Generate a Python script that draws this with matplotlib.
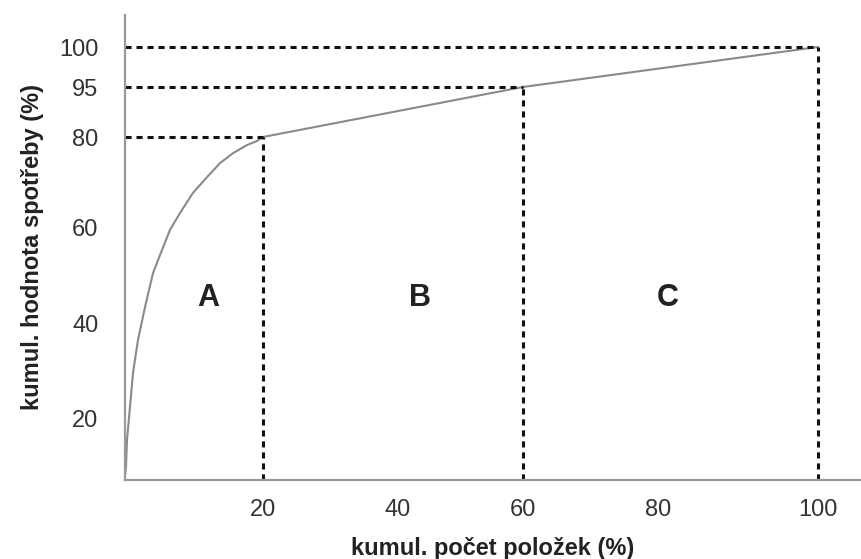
import numpy as np
import matplotlib.pyplot as plt

# cumulative curve (ABC analysis)
curve_x = [0.05, 0.14, 0.29, 0.72, 1.16, 1.88, 2.9, 4.06, 5.36, 6.52, 7.97, 9.86,
           11.9, 13.77, 15.65, 17.68, 19.1, 20, 60, 100]
curve_y = [8.4, 9.7, 15.4, 22.3, 29.5, 36.4, 43.3, 50.4, 55.2, 59.4, 63.1, 67.6,
           71.1, 74.2, 76.4, 78.2, 79.1, 80, 95, 100]

# class boundaries
break_x = [20, 60, 100]
break_y = [80, 95, 100]

# zone labels
zone_names = ['A', 'B', 'C']
zone_x = [12.0, 43.5, 81.2]
zone_y = [45.2, 45.2, 45.2]

x_ticks = [20, 40, 60, 80, 100]
y_ticks = [20, 40, 60, 80, 95, 100]

# the original drawing is not evenly spaced: knots of its axes (value -> length)
x_knots = [0, 20, 40, 60, 80, 100, 110]
x_len = [0, 138, 273, 398, 533, 693, 773]
y_knots = [0, 20, 40, 60, 80, 95, 100, 110]
y_len = [0, 95, 190, 286, 376, 426, 466, 546]


def make_scale(knots, lengths):
    fwd = lambda v: np.interp(v, knots, lengths)
    inv = lambda v: np.interp(v, lengths, knots)
    return fwd, inv


plt.rcParams['font.family'] = ['Liberation Sans', 'DejaVu Sans']

fig = plt.figure(figsize=(8.61, 5.59), dpi=100)
ax = fig.add_axes([125 / 861, 79 / 559, 736 / 861, 465 / 559])
ax.set_xscale('function', functions=make_scale(x_knots, x_len))
ax.set_yscale('function', functions=make_scale(y_knots, y_len))
ax.set_xlim(0, 105.4)
ax.set_ylim(6.95, 104)

ax.plot(curve_x, curve_y, color='#8a8a8a', lw=1.5, solid_joinstyle='round')

y0 = ax.get_ylim()[0]
for bx, by in zip(break_x, break_y):
    ax.plot([0, bx], [by, by], color='#111111', lw=2.2, linestyle=(0, (2, 1.6)))
    ax.plot([bx, bx], [y0, by], color='#111111', lw=2.2, linestyle=(0, (2, 1.6)))

for name, zx, zy in zip(zone_names, zone_x, zone_y):
    ax.text(zx, zy, name, fontsize=22, fontweight='bold', color='#222222',
            ha='center', va='center')

ax.set_xticks(x_ticks)
ax.set_yticks(y_ticks)
ax.set_xticks([], minor=True)
ax.set_yticks([], minor=True)
ax.set_xticklabels([str(t) for t in x_ticks])
ax.set_yticklabels([str(t) for t in y_ticks])
ax.tick_params(length=0, labelsize=17, labelcolor='#333333')
ax.tick_params(axis='x', pad=14)
ax.tick_params(axis='y', pad=19)

for side in ['top', 'right']:
    ax.spines[side].set_visible(False)
for side in ['left', 'bottom']:
    ax.spines[side].set_color('#9a9a9a')
    ax.spines[side].set_linewidth(1.6)

ax.set_xlabel('kumul. počet položek (%)', fontsize=17, fontweight='bold',
              color='#222222', labelpad=11)
ax.set_ylabel('kumul. hodnota spotřeby (%)', fontsize=17, fontweight='bold',
              color='#222222', labelpad=11)

fig.savefig('out.png', dpi=100)
